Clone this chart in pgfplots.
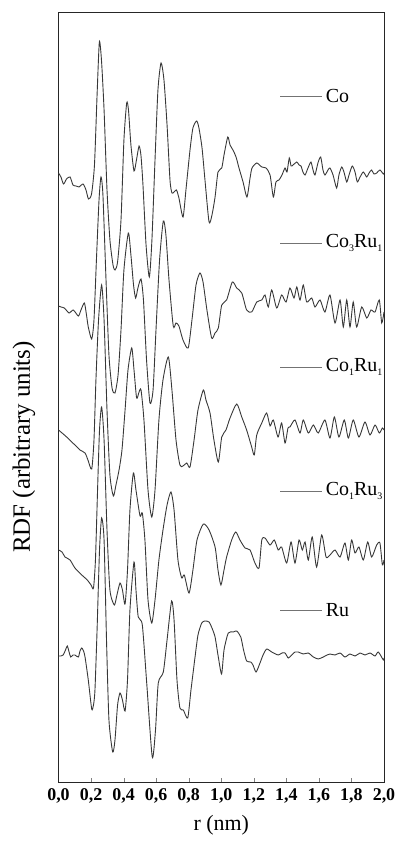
\documentclass[border=0pt]{standalone}
\usepackage{pgfplots}
\pgfplotsset{compat=1.18}
\usepackage{fontspec}
\setmainfont{Liberation Serif}
\definecolor{curve}{gray}{0.22}
\definecolor{legline}{gray}{0.45}
\newcommand{\sub}[1]{\raisebox{-0.45ex}{\fontsize{10}{10}\selectfont #1}}
\begin{document}
\begin{tikzpicture}
\begin{axis}[
  scale only axis, width=325.5bp, height=770bp,
  xmin=0, xmax=2, ymin=-782.7, ymax=-12.7,
  ytick=\empty,
  xtick={0,0.2,0.4,0.6,0.8,1.0,1.2,1.4,1.6,1.8,2.0},
  xtick pos=left, tick align=inside, major tick length=5bp,
  every axis/.append style={line width=1bp, draw=black!85},
  xticklabel style={font=\bfseries\fontsize{18}{18}\selectfont, black, yshift=-2bp},
  /pgf/number format/.cd, use comma, fixed, fixed zerofill, precision=1, assume math mode=true,
  /pgfplots/.cd,
  xlabel={r (nm)},
  xlabel style={font=\fontsize{22}{22}\selectfont, yshift=-5bp},
  ylabel={RDF (arbitrary units)},
  ylabel style={font=\fontsize{25}{25}\selectfont, at={(axis description cs:-0.06,0.436)}, anchor=south},
  clip=false,
]
\addplot[curve, line width=0.9bp, smooth, tension=0.4] coordinates {
(0,-173)(0.015,-177)(0.031,-184)(0.049,-179)(0.071,-177)(0.089,-185)(0.108,-186)(0.126,-187)(0.151,-184)(0.169,-190)(0.184,-199)(0.203,-194)(0.221,-165)(0.237,-95)(0.251,-42)(0.264,-60)(0.280,-110)(0.298,-190)(0.316,-240)(0.335,-265)(0.347,-270)(0.363,-262)(0.384,-220)(0.402,-140)(0.419,-103)(0.430,-110)(0.445,-145)(0.464,-171)(0.479,-160)(0.495,-146)(0.507,-156)(0.519,-185)(0.538,-245)(0.558,-277)(0.574,-240)(0.593,-160)(0.611,-90)(0.630,-63)(0.648,-80)(0.667,-125)(0.685,-180)(0.697,-193)(0.710,-192)(0.725,-190)(0.740,-198)(0.765,-217)(0.783,-190)(0.808,-150)(0.826,-128)(0.849,-121)(0.863,-128)(0.882,-148)(0.900,-180)(0.925,-222)(0.943,-215)(0.962,-197)(0.980,-172)(1.003,-168)(1.017,-155)(1.040,-137)(1.054,-145)(1.072,-150)(1.091,-157)(1.109,-168)(1.134,-182)(1.158,-197)(1.177,-178)(1.189,-168)(1.218,-163)(1.249,-167)(1.275,-168)(1.300,-175)(1.320,-197)(1.336,-182)(1.355,-180)(1.373,-175)(1.392,-168)(1.404,-172)(1.418,-158)(1.429,-166)(1.441,-165)(1.464,-162)(1.478,-165)(1.490,-166)(1.502,-172)(1.515,-175)(1.533,-168)(1.551,-162)(1.564,-170)(1.576,-175)(1.594,-163)(1.611,-157)(1.625,-170)(1.637,-175)(1.656,-170)(1.668,-168)(1.687,-175)(1.709,-188)(1.723,-175)(1.740,-167)(1.754,-172)(1.771,-182)(1.785,-175)(1.805,-166)(1.822,-172)(1.836,-182)(1.853,-177)(1.873,-172)(1.894,-177)(1.908,-173)(1.924,-170)(1.938,-174)(1.955,-173)(1.975,-170)(1.996,-174)(2.0,-173)
};
\addplot[curve, line width=0.9bp, smooth, tension=0.4] coordinates {
(0,-306)(0.015,-307)(0.036,-308)(0.065,-313)(0.091,-310)(0.122,-316)(0.138,-310)(0.159,-303)(0.172,-315)(0.183,-327)(0.204,-339)(0.218,-320)(0.233,-260)(0.249,-200)(0.261,-177)(0.273,-195)(0.292,-280)(0.310,-355)(0.329,-388)(0.347,-393)(0.366,-375)(0.384,-330)(0.402,-270)(0.429,-233)(0.445,-255)(0.461,-285)(0.474,-298)(0.488,-288)(0.507,-279)(0.522,-300)(0.541,-360)(0.562,-403)(0.581,-390)(0.599,-330)(0.621,-260)(0.644,-221)(0.660,-235)(0.679,-280)(0.705,-326)(0.722,-323)(0.740,-326)(0.765,-340)(0.797,-348)(0.820,-320)(0.845,-285)(0.869,-273)(0.888,-282)(0.912,-310)(0.941,-338)(0.962,-333)(0.982,-328)(1.003,-305)(1.033,-300)(1.068,-282)(1.095,-288)(1.126,-293)(1.156,-310)(1.187,-312)(1.218,-302)(1.249,-300)(1.269,-295)(1.289,-307)(1.310,-290)(1.341,-308)(1.371,-295)(1.398,-302)(1.422,-288)(1.447,-298)(1.464,-287)(1.484,-300)(1.504,-285)(1.525,-302)(1.556,-298)(1.576,-307)(1.607,-300)(1.637,-312)(1.668,-295)(1.699,-323)(1.730,-300)(1.750,-327)(1.771,-300)(1.791,-327)(1.811,-302)(1.832,-327)(1.863,-307)(1.894,-318)(1.920,-310)(1.945,-312)(1.971,-300)(1.986,-323)(2.0,-312)
};
\addplot[curve, line width=0.9bp, smooth, tension=0.4] coordinates {
(0,-430)(0.022,-433)(0.050,-437)(0.081,-442)(0.108,-446)(0.132,-450)(0.163,-453)(0.181,-460)(0.204,-469)(0.218,-440)(0.230,-380)(0.246,-320)(0.265,-285)(0.280,-320)(0.298,-410)(0.316,-475)(0.337,-496)(0.353,-485)(0.372,-470)(0.390,-450)(0.409,-410)(0.427,-370)(0.450,-348)(0.464,-370)(0.480,-398)(0.495,-392)(0.507,-390)(0.525,-420)(0.550,-490)(0.573,-517)(0.593,-490)(0.617,-420)(0.642,-380)(0.675,-357)(0.697,-390)(0.722,-440)(0.746,-465)(0.765,-466)(0.788,-463)(0.808,-467)(0.833,-440)(0.857,-410)(0.890,-390)(0.906,-400)(0.931,-413)(0.955,-440)(0.982,-462)(1.003,-437)(1.029,-430)(1.054,-418)(1.095,-404)(1.126,-417)(1.156,-430)(1.187,-447)(1.203,-455)(1.218,-435)(1.249,-423)(1.279,-413)(1.300,-426)(1.320,-420)(1.349,-437)(1.371,-423)(1.392,-443)(1.410,-428)(1.422,-427)(1.453,-420)(1.484,-433)(1.504,-420)(1.535,-433)(1.566,-425)(1.596,-433)(1.637,-420)(1.668,-438)(1.695,-417)(1.723,-437)(1.756,-420)(1.781,-438)(1.811,-420)(1.846,-437)(1.883,-422)(1.914,-435)(1.945,-425)(1.971,-433)(1.990,-428)(2.0,-430)
};
\addplot[curve, line width=0.9bp, smooth, tension=0.4] coordinates {
(0,-550)(0.022,-552)(0.040,-557)(0.071,-560)(0.101,-568)(0.143,-575)(0.177,-580)(0.200,-585)(0.215,-588)(0.227,-560)(0.240,-490)(0.252,-430)(0.265,-407)(0.280,-440)(0.298,-530)(0.316,-590)(0.343,-605)(0.359,-595)(0.378,-583)(0.393,-590)(0.409,-604)(0.424,-570)(0.439,-510)(0.460,-473)(0.476,-490)(0.501,-516)(0.515,-513)(0.531,-540)(0.550,-600)(0.573,-623)(0.593,-600)(0.617,-560)(0.642,-530)(0.667,-505)(0.691,-492)(0.710,-510)(0.734,-560)(0.757,-578)(0.773,-575)(0.802,-593)(0.826,-570)(0.851,-540)(0.890,-524)(0.925,-530)(0.962,-547)(0.980,-570)(0.998,-585)(1.017,-570)(1.033,-557)(1.064,-540)(1.089,-532)(1.115,-540)(1.146,-548)(1.177,-550)(1.207,-563)(1.232,-568)(1.249,-540)(1.269,-538)(1.300,-545)(1.326,-540)(1.350,-550)(1.371,-547)(1.402,-563)(1.429,-542)(1.453,-563)(1.478,-540)(1.498,-550)(1.515,-542)(1.535,-560)(1.559,-537)(1.586,-567)(1.617,-535)(1.644,-557)(1.668,-555)(1.699,-550)(1.730,-557)(1.760,-543)(1.781,-560)(1.801,-540)(1.822,-553)(1.846,-547)(1.873,-560)(1.900,-542)(1.924,-557)(1.955,-545)(1.975,-543)(1.990,-565)(2.0,-560)
};
\addplot[curve, line width=0.9bp, smooth, tension=0.4] coordinates {
(0,-656)(0.015,-656)(0.029,-655)(0.043,-650)(0.054,-646)(0.065,-652)(0.075,-657)(0.089,-655)(0.101,-655)(0.122,-657)(0.132,-651)(0.143,-648)(0.154,-651)(0.163,-657)(0.183,-680)(0.204,-709)(0.215,-705)(0.224,-690)(0.237,-630)(0.252,-550)(0.265,-518)(0.280,-540)(0.295,-640)(0.310,-720)(0.333,-752)(0.347,-740)(0.363,-705)(0.378,-693)(0.393,-700)(0.409,-711)(0.424,-680)(0.439,-610)(0.464,-562)(0.476,-590)(0.490,-617)(0.515,-625)(0.542,-683)(0.576,-757)(0.596,-730)(0.613,-683)(0.644,-672)(0.667,-640)(0.695,-601)(0.710,-620)(0.728,-680)(0.746,-708)(0.767,-710)(0.794,-718)(0.814,-690)(0.839,-657)(0.857,-635)(0.880,-623)(0.900,-621)(0.925,-622)(0.943,-628)(0.962,-637)(0.980,-655)(1.002,-674)(1.017,-650)(1.043,-633)(1.074,-632)(1.095,-631)(1.120,-637)(1.137,-650)(1.156,-661)(1.181,-662)(1.195,-665)(1.214,-672)(1.238,-663)(1.257,-655)(1.279,-649)(1.310,-652)(1.350,-655)(1.373,-653)(1.392,-653)(1.412,-658)(1.433,-655)(1.453,-652)(1.473,-652)(1.504,-654)(1.535,-653)(1.566,-657)(1.596,-659)(1.627,-657)(1.650,-655)(1.668,-654)(1.699,-655)(1.730,-653)(1.760,-657)(1.791,-654)(1.822,-656)(1.853,-653)(1.883,-655)(1.914,-653)(1.945,-656)(1.965,-652)(1.996,-660)(2.0,-658)
};
% legend entries
\draw[legline, line width=0.9bp] (axis cs:1.361,-96) -- (axis cs:1.619,-96);
\node[anchor=west, inner sep=0pt, font=\fontsize{20}{20}\selectfont] at (axis cs:1.64,-96) {Co};
\draw[legline, line width=0.9bp] (axis cs:1.361,-243) -- (axis cs:1.619,-243);
\node[anchor=west, inner sep=0pt, font=\fontsize{20}{20}\selectfont] at (axis cs:1.64,-243) {Co\sub{3}Ru\sub{1}};
\draw[legline, line width=0.9bp] (axis cs:1.361,-367) -- (axis cs:1.619,-367);
\node[anchor=west, inner sep=0pt, font=\fontsize{20}{20}\selectfont] at (axis cs:1.64,-367) {Co\sub{1}Ru\sub{1}};
\draw[legline, line width=0.9bp] (axis cs:1.361,-491) -- (axis cs:1.619,-491);
\node[anchor=west, inner sep=0pt, font=\fontsize{20}{20}\selectfont] at (axis cs:1.64,-491) {Co\sub{1}Ru\sub{3}};
\draw[legline, line width=0.9bp] (axis cs:1.361,-610) -- (axis cs:1.619,-610);
\node[anchor=west, inner sep=0pt, font=\fontsize{20}{20}\selectfont] at (axis cs:1.64,-610) {Ru};
\end{axis}
\pgfresetboundingbox
\path[use as bounding box] (0,0) ++(-58.5bp,-63.3bp) rectangle (325.5bp+13bp,770bp+12.7bp);
\end{tikzpicture}
\end{document}
